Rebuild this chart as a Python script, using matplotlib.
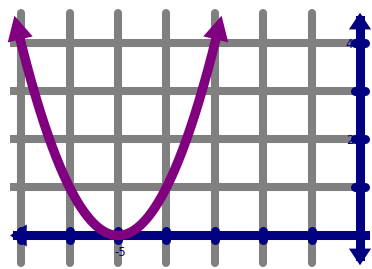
import numpy as np
import matplotlib
matplotlib.use("Agg")
import matplotlib.pyplot as plt

# ============================================================
# DATA
# ============================================================
grid_x = [-7, -6, -5, -4, -3, -2, -1]
grid_y = [1, 2, 3, 4]
x_tick_labels = {-5: "-5"}
y_tick_labels = {4: "4", 2: "2"}
vertex_x = -5
curve_a = 1.0
curve_halfwidth = 2.14

GRAY = "#808080"
PURPLE = "#800080"
NAVY = "#000080"

# ============================================================
# FIGURE
# ============================================================
fig = plt.figure(figsize=(3.72, 2.69), dpi=100)
ax = fig.add_axes([0, 0, 1, 1])
ax.set_xlim(-7.438, 0.248)
ax.set_ylim(-0.698, 4.906)
ax.axis("off")

gy0, gy1 = -0.57, 4.63
gx0 = -7.23

# grid
for gx in grid_x:
    ax.plot([gx, gx], [gy0, gy1], color=GRAY, lw=5.8,
            solid_capstyle="round", zorder=1)
for g in grid_y:
    ax.plot([gx0, 0], [g, g], color=GRAY, lw=5.8,
            solid_capstyle="butt", zorder=1)

# labels (under the tick blobs)
for xv, txt in x_tick_labels.items():
    ax.text(xv + 0.05, -0.36, txt, color=NAVY, fontsize=8.5,
            ha="center", va="center", zorder=2)
for yv, txt in y_tick_labels.items():
    ax.text(-0.14, yv - 0.03, txt, color=NAVY, fontsize=8.5,
            ha="right", va="center", zorder=2)

# axes lines with arrows
ax.plot([gx0 + 0.15, 0.1], [0, 0], color=NAVY, lw=6.5, zorder=4)
ax.plot([0, 0], [gy0 + 0.15, gy1 - 0.15], color=NAVY, lw=6.5, zorder=4)
arrow_kw = dict(arrowstyle="-|>,head_length=0.6,head_width=0.4",
                color=NAVY, lw=0, mutation_scale=20,
                shrinkA=0, shrinkB=0)
ax.annotate("", xy=(gx0, 0), xytext=(gx0 + 0.4, 0),
            arrowprops=arrow_kw, zorder=4)
ax.annotate("", xy=(0.26, 0), xytext=(-0.1, 0),
            arrowprops=arrow_kw, zorder=4)
ax.annotate("", xy=(0, 4.64), xytext=(0, 4.3),
            arrowprops=arrow_kw, zorder=4)
ax.annotate("", xy=(0, -0.62), xytext=(0, -0.25),
            arrowprops=arrow_kw, zorder=4)

# tick blobs
for gx in grid_x:
    ax.plot([gx, gx], [-0.1, 0.1], color=NAVY, lw=6.5,
            solid_capstyle="round", zorder=4)
for g in grid_y:
    ax.plot([-0.11, 0.11], [g, g], color=NAVY, lw=6.5,
            solid_capstyle="round", zorder=4)

# parabola
xs = np.linspace(vertex_x - curve_halfwidth + 0.06,
                 vertex_x + curve_halfwidth - 0.06, 300)
ys = curve_a * (xs - vertex_x) ** 2
ax.plot(xs, ys, color=PURPLE, lw=6.8, solid_capstyle="butt", zorder=5)
curve_kw = dict(arrowstyle="-|>,head_length=0.8,head_width=0.42",
                color=PURPLE, lw=0, mutation_scale=22,
                shrinkA=0, shrinkB=0)
for sgn in (-1, 1):
    tip_x = vertex_x + sgn * curve_halfwidth
    base_x = vertex_x + sgn * (curve_halfwidth - 0.14)
    ax.annotate("", xy=(tip_x, curve_a * (tip_x - vertex_x) ** 2),
                xytext=(base_x, curve_a * (base_x - vertex_x) ** 2),
                arrowprops=curve_kw, zorder=6)

fig.savefig("out.png", dpi=100)
